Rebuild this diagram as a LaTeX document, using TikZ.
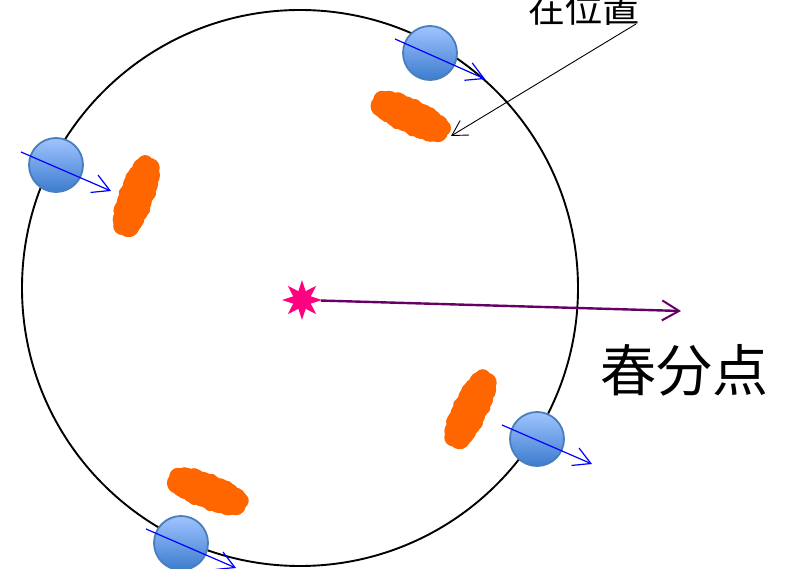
\documentclass[tikz,border=0pt]{standalone}
\usepackage{fontspec}
\newfontfamily\cjk{Noto Sans CJK JP}
\usetikzlibrary{arrows.meta,shapes.geometric}

\definecolor{cloudorange}{RGB}{255,102,0}
\definecolor{planetedge}{RGB}{74,126,187}
\definecolor{planettop}{RGB}{160,196,255}
\definecolor{planetbot}{RGB}{60,124,205}
\definecolor{spinblue}{RGB}{0,0,255}
\definecolor{sunpink}{RGB}{255,0,128}
\definecolor{equinox}{RGB}{102,0,102}

\tikzset{
  orbitline/.style={circle, draw=black, line width=1.9pt, minimum size=556pt, inner sep=0pt},
  planet/.style={circle, minimum size=54pt, inner sep=0pt, draw=planetedge,
    line width=1.8pt, top color=planettop, bottom color=planetbot},
  spin/.style={draw=spinblue, line width=1.2pt,
    -{Straight Barb[length=17pt,width=19pt,line width=1.2pt]}},
  sunstar/.style={star, star points=8, star point ratio=2.1, minimum size=40pt,
    inner sep=0pt, fill=sunpink},
  equinoxarrow/.style={draw=equinox, line width=2.4pt,
    -{Straight Barb[length=17pt,width=20pt,line width=2pt]}},
  pointer/.style={draw=black, line width=0.9pt,
    -{Straight Barb[length=15pt,width=17pt,line width=0.9pt]}},
}

% an orange dust blob: wide core ellipse with soft lobes and small edge bumps
\newcommand\dustcloud[2]{%
  \begin{scope}[shift={#1}, rotate=#2]
    \fill[cloudorange] (0,0) ellipse [x radius=38pt, y radius=15pt];
    \foreach \u/\rad in {-30/11pt,-21/13pt,-12/14pt,-3/14pt,6/14pt,15/14pt,24/13pt,32/10pt}
      {\fill[cloudorange] (\u,3) circle[radius=\rad];}
    \foreach \u/\rad in {-32/9pt,-25/12pt,-16/14pt,-7/14pt,2/14pt,11/14pt,20/13pt,29/11pt,35/8pt}
      {\fill[cloudorange] (\u,-3) circle[radius=\rad];}
    \foreach \u/\v in {-26/9,-9/12,8/12,25/9,-18/-11,0/-12,17/-11,33/-5}
      {\fill[cloudorange] (\u,\v) circle[radius=6pt];}
  \end{scope}}

\begin{document}
\begin{tikzpicture}[x=1pt, y=-1pt]
  \useasboundingbox (0,0) rectangle (787,569);

  % orbit
  \node[orbitline] (orbit) at (300,288) {};

  % dust clouds
  \dustcloud{(410,116)}{-25}
  \dustcloud{(136,197)}{70}
  \dustcloud{(470,410)}{64}
  \dustcloud{(207,491)}{-21}

  % planets
  \node[planet] (p1) at (430,53) {};
  \node[planet] (p2) at (56,165) {};
  \node[planet] (p3) at (537,439) {};
  \node[planet] (p4) at (181,543) {};

  % spin axes
  \coordinate (a1s) at (395,39);  \coordinate (a1e) at (485,79);
  \coordinate (a2s) at (21,152);  \coordinate (a2e) at (111,191);
  \coordinate (a3s) at (502,425); \coordinate (a3e) at (592,464);
  \coordinate (a4s) at (146,529); \coordinate (a4e) at (236,568);
  \draw[spin] (a1s) -- (a1e);
  \draw[spin] (a2s) -- (a2e);
  \draw[spin] (a3s) -- (a3e);
  \draw[spin] (a4s) -- (a4e);

  % sun and the direction of the vernal equinox
  \node[sunstar] (sun) at (302,300) {};
  \coordinate (eqtip) at (681,311);
  \draw[equinoxarrow] (sun) -- (eqtip);
  \node[font=\cjk\fontsize{56}{60}\selectfont, inner sep=0pt] (eqlabel) at (684,370) {春分点};

  % label for the current position
  \node[font=\cjk\fontsize{37}{40}\selectfont, inner sep=0pt] (now) at (584,8) {在位置};
  \coordinate (ptrstart) at (636,24);
  \coordinate (ptrend) at (451,136);
  \draw[pointer] (ptrstart) -- (ptrend);
\end{tikzpicture}
\end{document}
